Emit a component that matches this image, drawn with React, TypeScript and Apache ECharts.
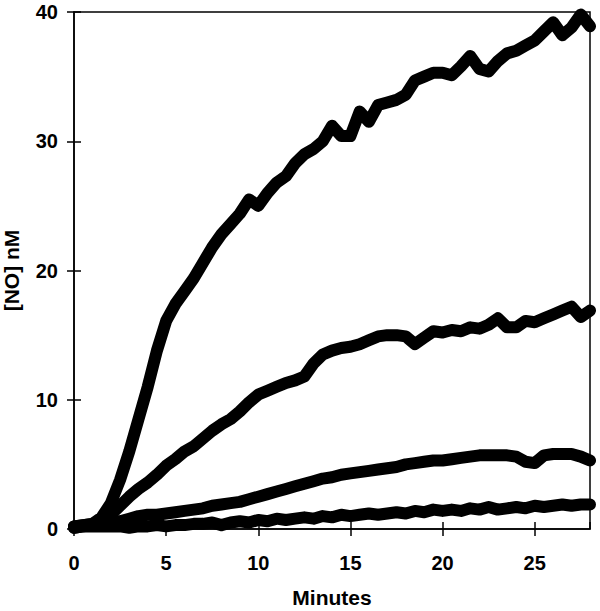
import React, { useEffect, useRef } from "react";
import * as echarts from "echarts";

const minutes = [
  0, 0.5, 1, 1.5, 2, 2.5, 3, 3.5, 4, 4.5, 5, 5.5, 6, 6.5, 7, 7.5, 8, 8.5, 9, 9.5,
  10, 10.5, 11, 11.5, 12, 12.5, 13, 13.5, 14, 14.5, 15, 15.5, 16, 16.5, 17, 17.5,
  18, 18.5, 19, 19.5, 20, 20.5, 21, 21.5, 22, 22.5, 23, 23.5, 24, 24.5, 25, 25.5,
  26, 26.5, 27, 27.5, 28,
];

const seriesA = [
  0.2, 0.3, 0.4, 0.9, 2.0, 3.8, 6.0, 8.5, 11.0, 13.8, 16.1, 17.4, 18.4, 19.4, 20.6,
  21.8, 22.8, 23.6, 24.4, 25.5, 25.0, 26.0, 26.8, 27.3, 28.3, 29.0, 29.4, 30.0, 31.2,
  30.4, 30.4, 32.3, 31.5, 32.8, 33.0, 33.2, 33.6, 34.7, 35.0, 35.3, 35.3, 35.1, 35.8,
  36.6, 35.6, 35.4, 36.2, 36.8, 37.0, 37.4, 37.8, 38.5, 39.2, 38.2, 38.8, 39.8, 38.9,
];

const seriesB = [
  0.2, 0.3, 0.4, 0.6, 1.1, 1.8, 2.5, 3.1, 3.6, 4.2, 4.9, 5.4, 6.0, 6.4, 7.0, 7.6, 8.1,
  8.5, 9.1, 9.8, 10.4, 10.7, 11.0, 11.3, 11.5, 11.8, 12.8, 13.5, 13.8, 14.0, 14.1, 14.3,
  14.6, 14.9, 15.0, 15.0, 14.9, 14.3, 14.8, 15.3, 15.2, 15.4, 15.3, 15.6, 15.5, 15.8,
  16.3, 15.6, 15.6, 16.1, 16.0, 16.3, 16.6, 16.9, 17.2, 16.4, 16.9,
];

const seriesC = [
  0.1, 0.2, 0.3, 0.4, 0.5, 0.6, 0.8, 1.0, 1.1, 1.1, 1.2, 1.3, 1.4, 1.5, 1.6, 1.8, 1.9,
  2.0, 2.1, 2.3, 2.5, 2.7, 2.9, 3.1, 3.3, 3.5, 3.7, 3.9, 4.0, 4.2, 4.3, 4.4, 4.5, 4.6,
  4.7, 4.8, 5.0, 5.1, 5.2, 5.3, 5.3, 5.4, 5.5, 5.6, 5.7, 5.7, 5.7, 5.7, 5.6, 5.2, 5.1,
  5.7, 5.8, 5.8, 5.8, 5.6, 5.3,
];

const seriesD = [
  0.1, 0.2, 0.2, 0.2, 0.2, 0.2, 0.1, 0.2, 0.2, 0.3, 0.2, 0.3, 0.3, 0.4, 0.4, 0.5, 0.3,
  0.5, 0.6, 0.5, 0.7, 0.6, 0.8, 0.7, 0.8, 0.9, 0.8, 1.0, 0.9, 1.1, 1.0, 1.1, 1.2, 1.1,
  1.2, 1.3, 1.2, 1.4, 1.3, 1.5, 1.4, 1.5, 1.4, 1.6, 1.5, 1.7, 1.5, 1.6, 1.7, 1.6, 1.8,
  1.7, 1.8, 1.9, 1.8, 1.9, 1.9,
];

const xTicks = [0, 5, 10, 15, 20, 25];
const yTicks = [0, 10, 20, 30, 40];

const FONT = "'Liberation Sans', Arial, sans-serif";

export default function App() {
  const ref = useRef<HTMLDivElement>(null);
  useEffect(() => {
    if (!ref.current) return;
    const chart = echarts.init(ref.current, undefined, { renderer: "svg" });
    const mk = (vals: number[]) => minutes.map((t, i) => [t, vals[i]]);
    const line = (vals: number[]) => ({
      type: "line",
      data: mk(vals),
      showSymbol: false,
      symbol: "none",
      smooth: false,
      lineStyle: { color: "#000", width: 12, join: "round", cap: "round" },
      xAxisIndex: 0,
      yAxisIndex: 0,
      z: 3,
    });
    const xLabelFmt = (v: number) => (xTicks.includes(v) ? String(v) : "");
    const yLabelFmt = (v: number) => (yTicks.includes(v) ? String(v) : "");
    chart.setOption({
      animation: false,
      backgroundColor: "#fff",
      grid: {
        left: 74,
        top: 12,
        right: 10,
        bottom: 82,
        outerBoundsMode: "none",
        containLabel: false,
        show: true,
        borderColor: "#000",
        borderWidth: 1.5,
        backgroundColor: "transparent",
      },
      xAxis: [
        {
          type: "value",
          min: 0,
          max: 28,
          interval: 5,
          name: "Minutes",
          nameLocation: "middle",
          nameGap: 58,
          nameTextStyle: { fontFamily: FONT, fontWeight: "bold", fontSize: 21, color: "#000" },
          axisLine: { show: true, lineStyle: { color: "#000", width: 1.5 } },
          axisTick: { show: true, inside: false, length: 7, lineStyle: { color: "#000", width: 1.5 } },
          axisLabel: {
            formatter: xLabelFmt,
            showMaxLabel: false,
            margin: 24,
            fontFamily: FONT,
            fontWeight: "bold",
            fontSize: 20,
            color: "#000",
          },
          splitLine: { show: false },
        },
        {
          type: "value",
          position: "bottom",
          min: 0,
          max: 28,
          interval: 5,
          axisLine: { show: false },
          axisTick: { show: true, inside: true, length: 7, lineStyle: { color: "#000", width: 1.5 } },
          axisLabel: { show: false },
          splitLine: { show: false },
        },
      ],
      yAxis: [
        {
          type: "value",
          min: 0,
          max: 40,
          interval: 10,
          name: "[NO] nM",
          nameLocation: "middle",
          nameGap: 52,
          nameRotate: 90,
          nameTextStyle: { fontFamily: FONT, fontWeight: "bold", fontSize: 21, color: "#000" },
          axisLine: { show: true, lineStyle: { color: "#000", width: 1.5 } },
          axisTick: { show: true, inside: false, length: 7, lineStyle: { color: "#000", width: 1.5 } },
          axisLabel: {
            formatter: yLabelFmt,
            margin: 16,
            fontFamily: FONT,
            fontWeight: "bold",
            fontSize: 20,
            color: "#000",
          },
          splitLine: { show: false },
        },
        {
          type: "value",
          position: "left",
          min: 0,
          max: 40,
          interval: 10,
          axisLine: { show: false },
          axisTick: { show: true, inside: true, length: 7, lineStyle: { color: "#000", width: 1.5 } },
          axisLabel: { show: false },
          splitLine: { show: false },
        },
      ],
      series: [line(seriesD), line(seriesC), line(seriesB), line(seriesA)],
    });
    return () => chart.dispose();
  }, []);
  return (
    <div
      ref={ref}
      style={{ position: "fixed", left: 0, top: 0, width: 600, height: 611, background: "#fff" }}
    />
  );
}
